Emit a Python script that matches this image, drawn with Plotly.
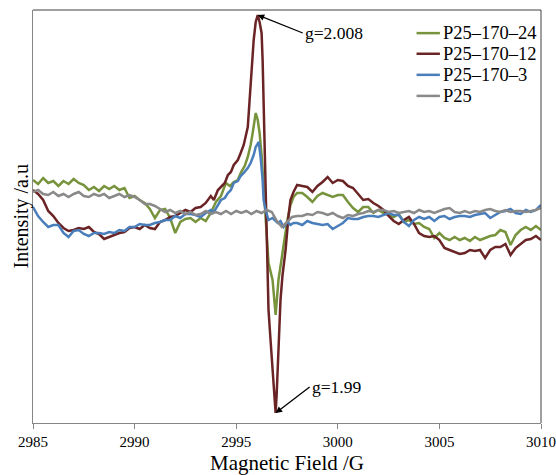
import plotly.graph_objects as go

# ---------------- data ----------------
# common sampling grid (G) for the flat parts of the spectra
LEFT_FIELD = [2985 + 0.25 * i for i in range(36)]        # 2985.00 .. 2993.75
RIGHT_FIELD = [2998 + 0.25 * i for i in range(49)]       # 2998.00 .. 3010.00
FULL_FIELD = [2985 + 0.25 * i for i in range(101)]       # 2985.00 .. 3010.00

# P25-170-24
green_left = [33, 29, 35, 30, 32, 27, 32, 29, 34, 30, 28, 23, 26, 22, 27, 24, 27, 23, 25, 15,
              17, 13, 10, 4, -5, 3, 4, -5, -20, -9, -6, -5, -9, -5, -8, 0]
green_center_x = [2994.00, 2994.25, 2994.49, 2994.69, 2994.88, 2995.08, 2995.22, 2995.42, 2995.57,
                  2995.71, 2995.81, 2995.91, 2995.96, 2996.06, 2996.15, 2996.25, 2996.35, 2996.45,
                  2996.59, 2996.79, 2996.94, 2997.08, 2997.18, 2997.28, 2997.43, 2997.52, 2997.67,
                  2997.82]
green_center_y = [11, 17, 30, 27, 31, 33, 40, 47, 56, 68, 80, 93, 100, 93, 80, 58, 26, -7, -50, -67,
                  -102, -67, -52, -37, -19, -7, 8, 16]
green_right = [20, 20, 16, 11, 17, 20, 18, 16, 18, 18, 11, 5, 1, 6, 6, 0, 3, 0, -2, -4,
               -1, -9, -7, -11, -10, -14, -16, -25, -20, -25, -27, -24, -27, -25, -28, -24, -27, -25,
               -23, -22, -17, -19, -32, -22, -17, -14, -17, -13, -17]

# P25-170-12
red_left = [23, 19, 13, 2, -3, -10, -15, -18, -17, -15, -16, -14, -19, -21, -26, -24, -22, -20, -19,
            -15, -14, -16, -12, -15, -16, -9, -7, -4, -3, 0, 3, 1, 5, 6, 10, 17]
red_center_x = [2993.90, 2994.10, 2994.25, 2994.44, 2994.59, 2994.74, 2994.88, 2995.08, 2995.22,
                2995.37, 2995.57, 2995.71, 2995.81, 2995.86, 2995.96, 2996.06, 2996.15, 2996.25,
                2996.30, 2996.35, 2996.40, 2996.45, 2996.50, 2996.59, 2996.69, 2996.79, 2996.89,
                2996.94, 2996.99, 2997.04, 2997.13, 2997.18, 2997.28, 2997.43, 2997.57, 2997.67,
                2997.82]
red_center_y = [13, 23, 26, 30, 38, 41, 48, 53, 60, 68, 86, 130, 158, 173, 191, 198, 191, 180, 153,
                113, 63, 13, -37, -97, -127, -154, -187, -200, -182, -154, -117, -87, -62, -37, -4,
                13, 21]
red_right = [28, 27, 26, 21, 27, 31, 36, 30, 33, 32, 27, 25, 19, 13, 14, 10, 7, 3, -3, -8,
             -11, -7, -4, -11, -20, -23, -24, -23, -27, -35, -37, -39, -41, -40, -37, -38, -37, -45,
             -37, -34, -34, -31, -42, -35, -31, -27, -26, -23, -27]

# P25-170-3
blue_left = [6, -3, -9, -14, -12, -12, -20, -24, -18, -17, -21, -23, -20, -20, -21, -19, -20, -17,
             -18, -14, -14, -11, -12, -12, -10, -9, -7, -7, -3, -5, -1, -1, -2, -4, 0, 3]
blue_center_x = [2993.90, 2994.10, 2994.25, 2994.44, 2994.59, 2994.74, 2994.88, 2995.08, 2995.22,
                 2995.37, 2995.57, 2995.71, 2995.86, 2995.96, 2996.11, 2996.20, 2996.30, 2996.35,
                 2996.45, 2996.59, 2996.79, 2997.04, 2997.18, 2997.33, 2997.52, 2997.67, 2997.82]
blue_center_y = [1, 8, 13, 15, 20, 23, 30, 32, 37, 40, 45, 50, 58, 66, 71, 56, 33, 13, 3, -7,
                 -5, -10, -8, -14, -9, -12, -10]
blue_right = [-10, -12, -8, -10, -11, -12, -11, -16, -13, -10, -5, -6, -6, -4, -3, -3, -4, -2, 0, -2,
              -2, -9, -13, -7, -4, -6, -4, -8, -4, -3, -6, -4, -3, -3, -4, -2, -1, 0, -5, -2,
              1, 2, 4, 0, -1, 3, 1, 3, 8]

# P25
gray_y = [21, 23, 19, 18, 21, 17, 19, 16, 19, 21, 17, 16, 19, 17, 19, 15, 17, 19, 16, 18,
          16, 13, 9, 9, 7, 4, 1, 3, 0, 2, -1, 1, -2, -1, 2, -1, 1, -1, 2, -1,
          2, 0, 2, -1, 2, 0, 3, 1, -8, -14, -9, -4, -3, -3, -1, -2, 1, 0, -2, 0,
          -3, -5, -2, -3, -1, 0, 2, 1, 3, 3, 1, 2, 0, 1, 2, 0, 3, 1, 2, 0,
          2, 4, 5, 1, 0, 2, 0, 2, 1, 3, 4, 2, 1, 3, 1, 2, 2, 1, 2, 3, 5]

SERIES_NAMES = ["P25\u2013170\u201324", "P25\u2013170\u201312", "P25\u2013170\u20133", "P25"]
SERIES_COLORS = ["#77933C", "#6B2425", "#4A7EBB", "#898989"]
X_TICKS = [2985, 2990, 2995, 3000, 3005, 3010]
PEAK_LABELS = ["g=2.008", "g=1.99"]
X_TITLE = "Magnetic Field /G"
Y_TITLE = "Intensity /a.u"

# ---------------- figure ----------------
series = [
    (LEFT_FIELD + green_center_x + RIGHT_FIELD, green_left + green_center_y + green_right),
    (LEFT_FIELD + red_center_x + RIGHT_FIELD, red_left + red_center_y + red_right),
    (LEFT_FIELD + blue_center_x + RIGHT_FIELD, blue_left + blue_center_y + blue_right),
    (FULL_FIELD, gray_y),
]

fig = go.Figure()
for (xs, ys), name, color in zip(series, SERIES_NAMES, SERIES_COLORS):
    fig.add_trace(go.Scatter(x=xs, y=ys, mode="lines", name=name, showlegend=False,
                             line=dict(color=color, width=2.5)))

FONT = "Times New Roman"
AXIS_GRAY = "#868686"

# legend drawn as paper-anchored marks (rows at fixed spacing like the original)
LEG_X0, LEG_X1, LEG_TXT = 0.755, 0.801, 0.803
LEG_ROWS = [0.944, 0.894, 0.843, 0.792]
shapes = [
    dict(type="line", xref="paper", yref="paper", x0=0, x1=1, y0=1, y1=1,
         line=dict(color="#404040", width=1)),
    dict(type="line", xref="paper", yref="paper", x0=1, x1=1, y0=0, y1=1,
         line=dict(color="#404040", width=1)),
]
annotations = []
for name, color, yr in zip(SERIES_NAMES, SERIES_COLORS, LEG_ROWS):
    shapes.append(dict(type="line", xref="paper", yref="paper", x0=LEG_X0, x1=LEG_X1,
                       y0=yr, y1=yr, line=dict(color=color, width=2.5)))
    annotations.append(dict(xref="paper", yref="paper", x=LEG_TXT, y=yr, text=name,
                            showarrow=False, xanchor="left", yanchor="middle",
                            font=dict(family=FONT, size=18.5, color="black")))

# y-axis title placed as rotated text left of the axis
annotations.append(dict(xref="paper", yref="paper", x=-0.0217, y=0.5, text=Y_TITLE,
                        showarrow=False, textangle=-90, xanchor="center", yanchor="middle",
                        font=dict(family=FONT, size=20, color="black")))

fig.update_layout(
    width=556, height=475,
    margin=dict(l=33, r=15, t=10, b=52, autoexpand=False),
    paper_bgcolor="white", plot_bgcolor="white",
    font=dict(family=FONT, color="black"),
    showlegend=False,
    xaxis=dict(range=[2985, 3010], tickvals=X_TICKS, ticktext=[str(t) for t in X_TICKS],
               ticks="outside", ticklen=5, tickcolor=AXIS_GRAY, tickwidth=1,
               showline=True, linecolor=AXIS_GRAY, linewidth=1,
               showgrid=False, zeroline=False, automargin=False,
               tickfont=dict(family=FONT, size=15, color="black"),
               title=dict(text=X_TITLE, font=dict(family=FONT, size=21, color="black"),
                          standoff=14)),
    yaxis=dict(range=[-210, 203], showticklabels=False, ticks="",
               showline=True, linecolor=AXIS_GRAY, linewidth=1,
               showgrid=False, zeroline=False, automargin=False),
    shapes=shapes,
    annotations=annotations,
)

fig.add_annotation(x=red_center_x[15], y=red_center_y[15], text=PEAK_LABELS[0],
                   showarrow=True, ax=45, ay=18, xanchor="left", yanchor="middle",
                   arrowhead=2, arrowsize=1, arrowwidth=1.3, arrowcolor="black",
                   font=dict(family=FONT, size=17.5, color="black"))
fig.add_annotation(x=red_center_x[27], y=red_center_y[27], text=PEAK_LABELS[1],
                   showarrow=True, ax=34, ay=-26, xanchor="left", yanchor="middle",
                   arrowhead=2, arrowsize=1, arrowwidth=1.3, arrowcolor="black",
                   font=dict(family=FONT, size=17.5, color="black"))

fig.write_html("out.html")
